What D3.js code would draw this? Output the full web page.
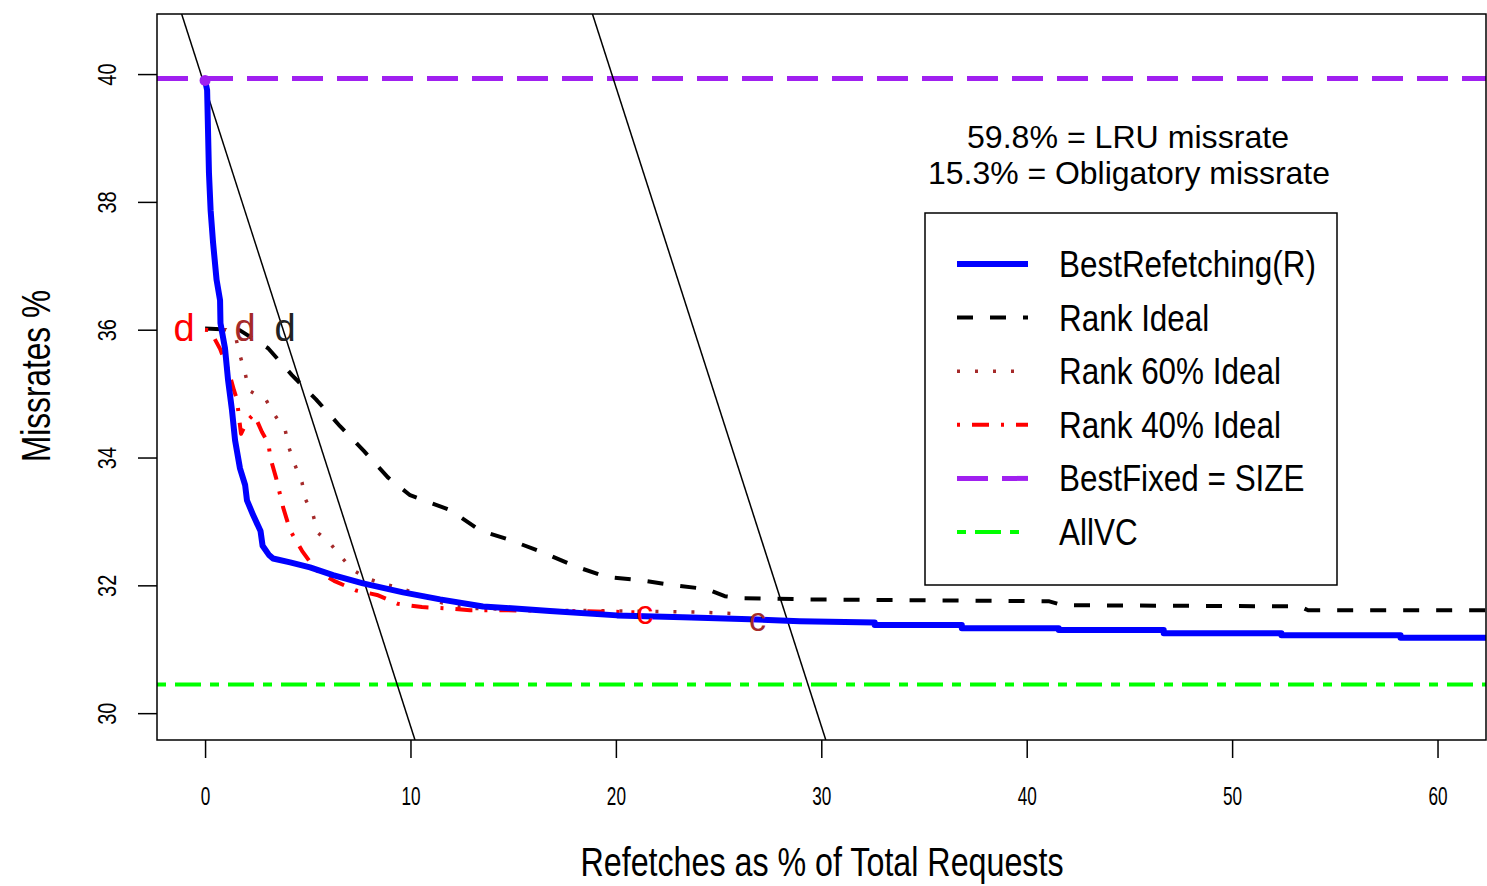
<!DOCTYPE html>
<html>
<head>
<meta charset="utf-8">
<script src="https://cdn.jsdelivr.net/npm/d3@7"></script>
<style>
  body { margin: 0; background: #fff; }
  svg { display: block; }
  text { font-family: "Liberation Sans", Arial, sans-serif; fill: #000; }
</style>
</head>
<body>
<svg id="chart"></svg>
<script>
var width = 1487, height = 886;

// ---- data ----
var xTicks = [0, 10, 20, 30, 40, 50, 60];
var yTicks = [30, 32, 34, 36, 38, 40];

var bestRefetching = [
  [0, 39.91], [0.1, 39.75], [0.19, 38.45], [0.27, 37.87], [0.39, 37.36], [0.56, 36.78],
  [0.73, 36.46], [0.75, 36.1], [0.97, 35.71], [1.12, 35.21], [1.31, 34.74], [1.46, 34.27],
  [1.7, 33.83], [1.95, 33.57], [2.04, 33.33], [2.34, 33.1], [2.7, 32.85], [2.8, 32.62],
  [3.1, 32.48], [3.31, 32.42], [4.14, 32.36], [5.11, 32.28], [6.23, 32.16], [7.69, 32.03],
  [9.64, 31.89], [11.44, 31.78], [13.53, 31.67], [16.79, 31.6], [20.05, 31.53],
  [23.26, 31.5], [26.52, 31.47], [28.95, 31.44], [32.6, 31.42], [32.6, 31.38],
  [36.84, 31.38], [36.84, 31.33], [41.56, 31.33], [41.56, 31.3], [46.67, 31.3],
  [46.67, 31.25], [52.4, 31.25], [52.4, 31.22], [58.2, 31.22], [58.2, 31.18], [62.4, 31.18]
];

var rankIdeal = [
  [0, 36.02], [1.7, 35.99], [3.07, 35.71], [4.23, 35.29], [5.4, 34.91], [6.57, 34.49],
  [7.74, 34.1], [8.9, 33.69], [9.98, 33.41], [11.92, 33.18], [13.38, 32.86], [14.84, 32.71],
  [16.4, 32.52], [18.0, 32.3], [19.56, 32.13], [21.17, 32.08], [22.87, 32.0], [24.43, 31.94],
  [25.3, 31.83], [26.03, 31.8], [29.44, 31.78], [41.1, 31.75], [41.75, 31.69],
  [53.3, 31.67], [53.7, 31.61], [62.4, 31.61]
];

var rank60 = [
  [0, 36.0], [1.02, 36.0], [1.5, 35.87], [1.7, 35.6], [1.95, 35.32], [2.14, 35.05],
  [2.97, 34.9], [3.4, 34.66], [3.9, 34.43], [4.09, 34.15], [4.38, 33.88], [4.72, 33.61],
  [4.87, 33.36], [5.26, 33.1], [5.5, 32.82], [6.08, 32.66], [6.67, 32.43], [7.2, 32.24],
  [7.88, 32.11], [8.6, 32.03], [9.39, 31.97], [10.2, 31.88], [10.85, 31.82], [11.58, 31.72],
  [12.4, 31.66], [13.1, 31.64], [16.8, 31.61], [20.2, 31.6], [24.1, 31.58], [26.3, 31.55]
];

var rank40 = [
  [0, 36.0], [0.24, 35.99], [0.73, 35.7], [1.12, 35.38], [1.41, 35.05], [1.56, 34.9],
  [1.65, 34.63], [1.75, 34.37], [2.04, 34.57], [2.38, 34.68], [2.77, 34.4], [3.07, 34.23],
  [3.21, 33.96], [3.45, 33.69], [3.8, 33.22], [4.14, 32.86], [4.72, 32.54], [5.4, 32.24],
  [6.28, 32.07], [7.35, 31.92], [8.37, 31.85], [9.39, 31.71], [10.56, 31.66], [11.73, 31.64],
  [12.9, 31.61], [14.36, 31.61], [17.3, 31.6], [20.9, 31.58]
];

var bestFixed = 39.93;
var bestFixedPoint = [0, 39.9];
var allVC = 30.45;
var boundLines = [39.8, 59.8];   // missrate + refetches = const

var markerText = ["d", "d", "d", "c", "c"];
var markerX = [-1.02, 1.95, 3.9, 21.41, 26.9];
var markerY = [36.0, 36.0, 36.0, 31.63, 31.53];
var markerColor = ["red", "brown", "#222", "red", "brown"];

var notes = ["59.8% = LRU missrate", "15.3% = Obligatory missrate"];
var legendNames = ["BestRefetching(R)", "Rank Ideal", "Rank 60% Ideal",
                   "Rank 40% Ideal", "BestFixed = SIZE", "AllVC"];

// ---- styles ----
var styles = {
  best:   { color: "blue",   width: 6, dash: null },
  ideal:  { color: "black",  width: 4, dash: "16,17" },
  r60:    { color: "brown",  width: 3.5, dash: "3,15" },
  r40:    { color: "red",    width: 4, dash: "3,12,17,12" },
  fixed:  { color: "#a020f0", width: 5, dash: "31,14" },
  allvc:  { color: "#00ff00", width: 4, dash: "9,9,26,9" }
};
var legendStyles = [styles.best, styles.ideal, styles.r60, styles.r40, styles.fixed, styles.allvc];

var svg = d3.select("#chart")
    .attr("width", width)
    .attr("height", height);

svg.append("rect").attr("width", width).attr("height", height).attr("fill", "#fff");

var x = d3.scaleLinear().domain([-2.34, 62.36]).range([157, 1486]);
var y = d3.scaleLinear().domain([29.58, 40.94]).range([740, 14]);

svg.append("clipPath").attr("id", "plotclip")
  .append("rect")
    .attr("x", x.range()[0]).attr("y", y.range()[1])
    .attr("width", x.range()[1] - x.range()[0])
    .attr("height", y.range()[0] - y.range()[1]);

var plot = svg.append("g").attr("clip-path", "url(#plotclip)");

var line = d3.line()
    .x(function(d) { return x(d[0]); })
    .y(function(d) { return y(d[1]); });

function drawSeries(data, st) {
  plot.append("path")
    .datum(data)
    .attr("d", line)
    .attr("fill", "none")
    .attr("stroke", st.color)
    .attr("stroke-width", st.width)
    .attr("stroke-dasharray", st.dash)
    .attr("stroke-linejoin", "round");
}

// horizontal reference lines
function hline(v, st) {
  drawSeries([[x.domain()[0], v], [x.domain()[1], v]], st);
}
hline(bestFixed, styles.fixed);
hline(allVC, styles.allvc);

// diagonal bound lines x + y = c
boundLines.forEach(function(c) {
  var y0 = y.domain()[1], y1 = y.domain()[0];
  plot.append("path")
    .datum([[c - y0, y0], [c - y1, y1]])
    .attr("d", line)
    .attr("fill", "none")
    .attr("stroke", "#000")
    .attr("stroke-width", 1.5);
});

drawSeries(rankIdeal, styles.ideal);
drawSeries(rank60, styles.r60);
drawSeries(rank40, styles.r40);
drawSeries(bestRefetching, styles.best);

plot.append("circle")
  .attr("cx", x(bestFixedPoint[0]))
  .attr("cy", y(bestFixedPoint[1]))
  .attr("r", 5.5)
  .attr("fill", styles.fixed.color);

// 'd' / 'c' markers
plot.selectAll(".mark")
  .data(markerText)
  .enter().append("text")
    .attr("class", "mark")
    .attr("x", function(d, i) { return x(markerX[i]); })
    .attr("y", function(d, i) { return y(markerY[i]); })
    .attr("dy", function(d) { return d === "d" ? "0.3em" : "0.45em"; })
    .attr("text-anchor", "middle")
    .attr("font-size", function(d) { return d === "d" ? 38 : 34; })
    .style("fill", function(d, i) { return markerColor[i]; })
    .text(function(d) { return d; });

// box
svg.append("rect")
  .attr("x", x.range()[0]).attr("y", y.range()[1])
  .attr("width", x.range()[1] - x.range()[0])
  .attr("height", y.range()[0] - y.range()[1])
  .attr("fill", "none")
  .attr("stroke", "#000")
  .attr("stroke-width", 1.5);

// axes
var xAxis = svg.append("g")
  .attr("transform", "translate(0," + y.range()[0] + ")")
  .call(d3.axisBottom(x).tickValues(xTicks).tickSize(18).tickSizeOuter(0).tickPadding(29));
xAxis.select(".domain").remove();
xAxis.selectAll("line").attr("stroke-width", 1.5);
xAxis.selectAll("text")
  .attr("font-size", 26)
  .attr("font-family", "Liberation Sans, Arial, sans-serif")
  .attr("transform", "scale(0.66,1)");

var yAxis = svg.append("g")
  .attr("transform", "translate(" + x.range()[0] + ",0)")
  .call(d3.axisLeft(y).tickValues(yTicks).tickSize(19).tickSizeOuter(0));
yAxis.select(".domain").remove();
yAxis.selectAll("line").attr("stroke-width", 1.5);
yAxis.selectAll("text")
  .attr("x", 0).attr("dy", null)
  .attr("text-anchor", "middle")
  .attr("font-size", 25)
  .attr("font-family", "Liberation Sans, Arial, sans-serif")
  .attr("transform", "translate(-41,0) rotate(-90) scale(0.8,1)");

// axis titles
svg.append("text")
  .attr("x", 822).attr("y", 876)
  .attr("text-anchor", "middle")
  .attr("font-size", 41)
  .attr("textLength", 483).attr("lengthAdjust", "spacingAndGlyphs")
  .text("Refetches as % of Total Requests");

svg.append("text")
  .attr("transform", "translate(50,376) rotate(-90)")
  .attr("text-anchor", "middle")
  .attr("font-size", 41)
  .attr("textLength", 172).attr("lengthAdjust", "spacingAndGlyphs")
  .text("Missrates %");

// notes
var noteX = [1128, 1129], noteY = [148, 184], noteW = [322, 402];
svg.selectAll(".note")
  .data(notes)
  .enter().append("text")
    .attr("class", "note")
    .attr("x", function(d, i) { return noteX[i]; })
    .attr("y", function(d, i) { return noteY[i]; })
    .attr("text-anchor", "middle")
    .attr("font-size", 32)
    .attr("textLength", function(d, i) { return noteW[i]; })
    .attr("lengthAdjust", "spacingAndGlyphs")
    .text(function(d) { return d; });

// legend
var legend = svg.append("g");
legend.append("rect")
  .attr("x", 925).attr("y", 213)
  .attr("width", 412).attr("height", 372)
  .attr("fill", "#fff")
  .attr("stroke", "#000")
  .attr("stroke-width", 1.5);

var rowY = d3.scaleLinear().domain([0, legendNames.length - 1]).range([264, 532]);

var rows = legend.selectAll(".row")
  .data(legendNames)
  .enter().append("g")
    .attr("class", "row")
    .attr("transform", function(d, i) { return "translate(0," + rowY(i) + ")"; });

rows.append("line")
  .attr("x1", 957).attr("x2", 1028)
  .attr("stroke", function(d, i) { return legendStyles[i].color; })
  .attr("stroke-width", function(d, i) { return legendStyles[i].width; })
  .attr("stroke-dasharray", function(d, i) { return legendStyles[i].dash; });

rows.append("text")
  .attr("transform", "translate(1059,13) scale(0.85,1)")
  .attr("font-size", 37)
  .text(function(d) { return d; });
</script>
</body>
</html>
